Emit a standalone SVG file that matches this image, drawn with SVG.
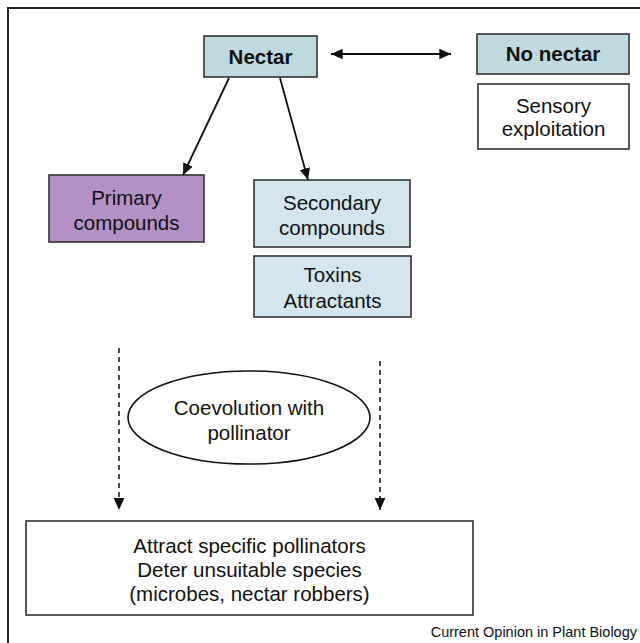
<svg xmlns="http://www.w3.org/2000/svg" width="640" height="643" viewBox="0 0 640 643">
<defs>
<marker id="ah" viewBox="0 0 10 10" refX="10" refY="5" markerWidth="6.5" markerHeight="6.5" orient="auto-start-reverse" markerUnits="strokeWidth">
<path d="M0,0.5 L10,5 L0,9.5 Z" fill="#111"/>
</marker>
<marker id="ahd" viewBox="0 0 10 10" refX="10" refY="5" markerWidth="8" markerHeight="8" orient="auto" markerUnits="strokeWidth">
<path d="M0,0.5 L10,5 L0,9.5 Z" fill="#111"/>
</marker>
<style>
text{font-family:"Liberation Sans",Arial,sans-serif;font-size:20.5px;fill:#111;text-anchor:middle}
.b{font-weight:bold}
.box{stroke:#333;stroke-width:1.6}
.blue{fill:#bed9e0}
.lblue{fill:#d3e5ef}
.purple{fill:#b390c6}
.white{fill:#fff}
.con{stroke:#111;stroke-width:1.8;fill:none}
.dash{stroke:#111;stroke-width:1.5;fill:none;stroke-dasharray:5,4}
</style>
</defs>
<rect width="640" height="643" fill="#fff"/>
<path d="M8,643 V8 H640" fill="none" stroke="#222" stroke-width="2"/>

<g id="nectar">
<rect class="box blue" x="204" y="36" width="113" height="41"/>
<text class="b" x="260.5" y="64">Nectar</text>
</g>
<g id="no-nectar">
<rect class="box blue" x="477" y="34" width="152" height="40"/>
<text class="b" x="553" y="61">No nectar</text>
</g>
<g id="sensory">
<rect class="box white" x="478" y="84" width="151" height="65"/>
<text x="553.5" y="113">Sensory</text>
<text x="553.5" y="136">exploitation</text>
</g>
<g id="primary">
<rect class="box purple" x="49" y="175" width="155" height="67"/>
<text x="126.5" y="205">Primary</text>
<text x="126.5" y="230">compounds</text>
</g>
<g id="secondary">
<rect class="box lblue" x="254" y="180" width="156" height="67"/>
<text x="332" y="210">Secondary</text>
<text x="332" y="235">compounds</text>
</g>
<g id="toxins">
<rect class="box lblue" x="254" y="256" width="157" height="61"/>
<text x="332.5" y="282">Toxins</text>
<text x="332.5" y="308">Attractants</text>
</g>
<g id="coevolution">
<ellipse cx="249" cy="417.5" rx="121" ry="46.5" fill="#fff" stroke="#111" stroke-width="1.6"/>
<text x="249" y="415">Coevolution with</text>
<text x="249" y="440">pollinator</text>
</g>
<g id="outcome">
<rect class="box white" x="26" y="521" width="447" height="94"/>
<text x="249.5" y="553">Attract specific pollinators</text>
<text x="249.5" y="577">Deter unsuitable species</text>
<text x="249.5" y="601">(microbes, nectar robbers)</text>
</g>
<g id="connectors">
<line class="con" x1="331" y1="54" x2="451" y2="54" marker-start="url(#ah)" marker-end="url(#ah)"/>
<line class="con" x1="229" y1="78" x2="183" y2="175" marker-end="url(#ah)"/>
<line class="con" x1="280" y1="78" x2="308" y2="180" marker-end="url(#ah)"/>
<line class="dash" x1="119" y1="348" x2="119" y2="510" marker-end="url(#ahd)"/>
<line class="dash" x1="380" y1="361" x2="380" y2="510" marker-end="url(#ahd)"/>
</g>
<text x="637" y="637" style="font-size:14.5px;text-anchor:end">Current Opinion in Plant Biology</text>
</svg>
